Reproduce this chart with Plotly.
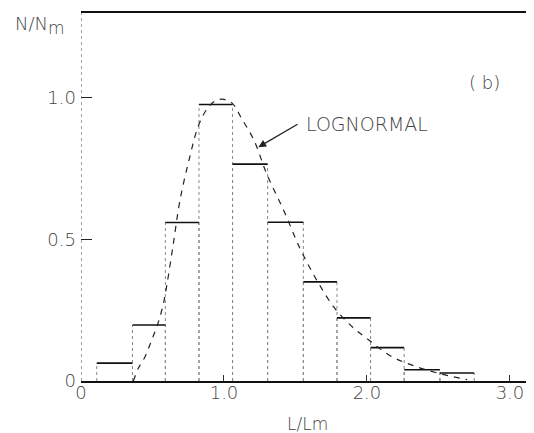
import plotly.graph_objects as go

# Histogram bins (L/Lm) and heights (N/Nm)
bin_edges = [0.11, 0.36, 0.59, 0.825, 1.06, 1.305, 1.555, 1.79, 2.025, 2.26, 2.51, 2.75]
bin_heights = [0.063, 0.198, 0.56, 0.977, 0.766, 0.561, 0.35, 0.223, 0.118, 0.04, 0.028]

# Lognormal curve
curve_x = [0.366, 0.40, 0.447, 0.494, 0.541, 0.576, 0.60, 0.646, 0.692, 0.76, 0.82, 0.88,
           0.94, 1.00, 1.06, 1.12, 1.21, 1.30, 1.42, 1.53, 1.65, 1.77, 1.90, 2.00, 2.16,
           2.32, 2.51, 2.70]
curve_y = [0.0, 0.044, 0.085, 0.144, 0.208, 0.273, 0.338, 0.486, 0.638, 0.79, 0.90, 0.96,
           0.99, 0.995, 0.98, 0.93, 0.85, 0.73, 0.60, 0.47, 0.355, 0.26, 0.19, 0.15, 0.09,
           0.055, 0.026, 0.005]

x_ticks = [0, 1, 2, 3]
x_tick_labels = ["0", "1.0", "2.0", "3.0"]
y_ticks = [0, 0.5, 1.0]
y_tick_labels = ["0", "0.5", "1.0"]

FONT = "DejaVu Sans"
TXT = "#444444"

# build histogram segments from bins
tops_x, tops_y, sides_x, sides_y = [], [], [], []
for i, h in enumerate(bin_heights):
    a, b = bin_edges[i], bin_edges[i + 1]
    tops_x += [a, b, None]
    tops_y += [h, h, None]
    sides_x += [a, a, None, b, b, None]
    sides_y += [0, h, None, 0, h, None]

fig = go.Figure()
fig.add_trace(go.Scatter(x=sides_x, y=sides_y, mode="lines",
                         line=dict(color="#888888", width=1, dash="dot"),
                         hoverinfo="skip", showlegend=False))
fig.add_trace(go.Scatter(x=tops_x, y=tops_y, mode="lines",
                         line=dict(color="#111111", width=1.6),
                         hoverinfo="skip", showlegend=False))
fig.add_trace(go.Scatter(x=curve_x, y=curve_y, mode="lines",
                         line=dict(color="#222222", width=1.2, dash="6px,6px", shape="spline"),
                         showlegend=False))

# dotted left axis line
fig.add_shape(type="line", xref="x", yref="paper", x0=0, x1=0, y0=0, y1=1,
              line=dict(color="#666666", width=1.2, dash="dot"))

fig.add_annotation(x=1.24, y=0.826, ax=1.525, ay=0.91, axref="x", ayref="y",
                   xref="x", yref="y", text="", showarrow=True,
                   arrowhead=2, arrowsize=1.2, arrowwidth=1.3, arrowcolor="#222222")
fig.add_annotation(x=1.56, y=0.907, xref="x", yref="y", text="LOGNORMAL",
                   showarrow=False, xanchor="left", yanchor="middle",
                   font=dict(family=FONT, size=19, color=TXT, weight=300))
fig.add_annotation(x=2.825, y=1.055, xref="x", yref="y", text="( b)",
                   showarrow=False, xanchor="center", yanchor="middle",
                   font=dict(family=FONT, size=18, color=TXT, weight=300))
fig.add_annotation(x=-0.0905, y=0.965, xref="paper", yref="paper",
                   text="N/N<sub><span style='font-size:17px'>m</span></sub>",
                   showarrow=False, xanchor="center", yanchor="middle",
                   font=dict(family=FONT, size=18, color=TXT, weight=300))
fig.add_annotation(x=0.5, y=-0.117, xref="paper", yref="paper", text="L/Lm",
                   showarrow=False, xanchor="center", yanchor="middle",
                   font=dict(family=FONT, size=17, color=TXT, weight=300))

fig.update_xaxes(range=[0, 3.168], tickvals=x_ticks, ticktext=x_tick_labels,
                 ticks="inside", ticklen=6, tickwidth=1, tickcolor="#333333",
                 showline=True, linecolor="#111111", linewidth=1.6, mirror=True,
                 showgrid=False, zeroline=False, automargin=False,
                 ticklabelstandoff=-5,
                 tickfont=dict(family=FONT, size=18, color=TXT, weight=300))
fig.update_yaxes(range=[0, 1.3], tickvals=y_ticks, ticktext=y_tick_labels,
                 ticks="inside", ticklen=11, tickwidth=1.4, tickcolor="#222222",
                 showline=False, showgrid=False, zeroline=False, automargin=False,
                 ticklabelstandoff=4,
                 tickfont=dict(family=FONT, size=18, color=TXT, weight=300))

# page body has an 8px margin: figure drawn 8px in from the window corner
fig.update_layout(width=526, height=425, margin=dict(l=73, r=0, t=5, b=52),
                  plot_bgcolor="white", paper_bgcolor="white", showlegend=False)

fig.write_html("out.html")
